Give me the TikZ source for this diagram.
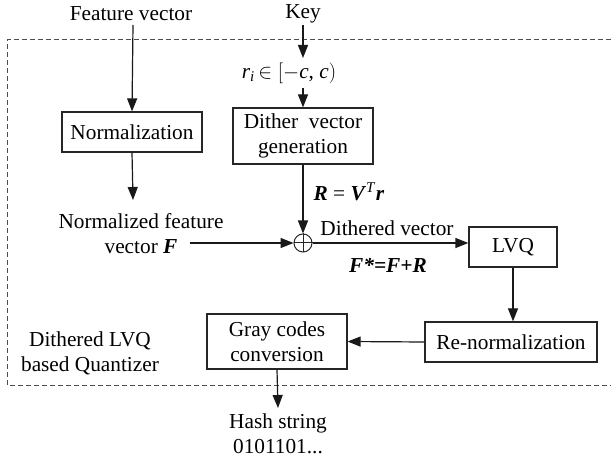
\documentclass[tikz,border=0pt]{standalone}
\usepackage{fontspec}
\setmainfont{Liberation Serif}
\usetikzlibrary{arrows.meta}
\newcommand{\bi}[1]{\textbf{\textit{#1}}}
\begin{document}
\begin{tikzpicture}[x=1pt,y=-1pt,
  every node/.style={font=\rmfamily\fontsize{21.3}{25}\selectfont, inner sep=0pt},
  blk/.style={draw=black!85, line width=1.2pt, minimum height=40pt, align=center},
  txt/.style={align=center},
  conn/.style={draw=black!90, line width=1.2pt, -{Triangle[length=13pt,width=10pt]}},
  frame/.style={draw=black!70, line width=1pt, dash pattern=on 5pt off 3pt}]
\useasboundingbox (0,0) rectangle (611,457);
\fill[white] (0,0) rectangle (611,457);
% dashed frame
\draw[frame] (611,40) -- (7,40) -- (7,385) -- (611,385);
% texts
\node[txt] (feat) at (131,14) {Feature vector};
\node[txt] (key) at (303,14) {Key};
\node[txt] (ri) at (289,73) {\textit{r}\textsubscript{\textit{i}}\,$\in\Bigl[-$\textit{c},\ \textit{c}$\Bigr)$};
\coordinate (ka) at (303,25);
\coordinate (kb) at (303,58);
\coordinate (ra) at (303,88);
\coordinate (fa) at (133,25);
% boxes
\node[blk, minimum width=140pt] (norm) at (132,132) {Normalization};
\node[blk, minimum width=140pt, minimum height=56pt] (dith) at (303,136) {Dither\ \ vector\\generation};
\node[blk, minimum width=88pt] (lvq) at (513,247) {LVQ};
\node[blk, minimum width=172pt] (renorm) at (511,342) {Re-normalization};
\node[blk, minimum width=140pt, minimum height=55pt] (gray) at (277,341.5) {Gray codes\\conversion};
\node[draw=black!85, line width=1pt, circle, minimum size=18pt] (op) at (303,243) {};
\draw[line width=1pt, black!85] (op.north) -- (op.south) (op.west) -- (op.east);
% labels
\node[txt] (nfv) at (141,234) {Normalized feature\\vector \bi{F}};
\node[txt] (rvr) at (349,192) {\bi{R} = \bi{V}\textsuperscript{\textit{T}}\bi{r}};
\node[txt] (dv) at (387,228) {Dithered vector};
\node[txt] (fsum) at (388,265) {\bi{F*=F+R}};
\node[txt] (dlvq) at (90,353) {Dithered LVQ\\based Quantizer};
\node[txt] (hash) at (278,434) {Hash string\\0101101...};
\coordinate (na) at (133,200);
\coordinate (nfvr) at (190,243);
\coordinate (ha) at (278,408);
% connectors
\draw[conn] (fa) -- (norm.north);
\draw[conn] (norm.south) -- (na);
\draw[conn] (ka) -- (kb);
\draw[conn] (ra) -- (dith.north);
\draw[conn] (dith.south) -- (op.north);
\draw[conn] (nfvr) -- (op.west);
\draw[conn] (op.east) -- (op.east -| lvq.west);
\draw[conn] (lvq.south) -- (lvq.south |- renorm.north);
\draw[conn] (renorm.west) -- (gray.east);
\draw[conn] (gray.south) -- (ha);
\end{tikzpicture}
\end{document}
